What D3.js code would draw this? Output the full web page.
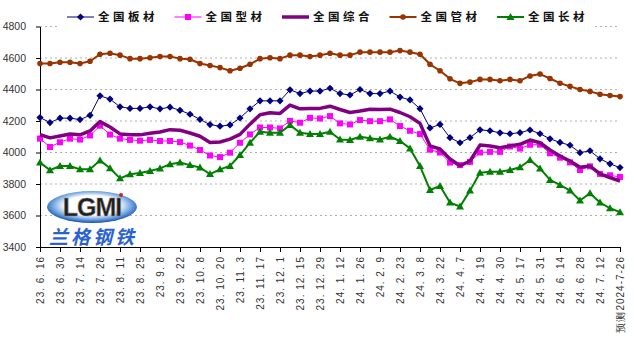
<!DOCTYPE html>
<html>
<head>
<meta charset="utf-8">
<script src="https://cdn.jsdelivr.net/npm/d3@7"></script>
<style>
  body { margin: 0; background: #fff; }
  svg { display: block; }
</style>
</head>
<body>
<svg id="chart" width="634" height="351"></svg>
<script>
// Tick labels (every second week)
const tickLabels = ["23. 6. 16", "23. 6. 30", "23. 7. 14", "23. 7. 28", "23. 8. 11", "23. 8. 25",
    "23. 9. 8", "23. 9. 22", "23. 10. 8", "23. 10. 20", "23. 11. 3", "23. 11. 17", "23. 12. 1",
    "23. 12. 15", "23. 12. 29", "24. 1. 12", "24. 1. 26", "24. 2. 9", "24. 2. 23", "24. 3. 8",
    "24. 3. 22", "24. 4. 7", "24. 4. 19", "24. 4. 30", "24. 5. 17", "24. 5. 31", "24. 6. 14",
    "24. 6. 28", "24. 7. 12", "预测2024-7-26"];

// Weekly price index values
const banCai = [4222, 4190, 4218, 4218, 4209, 4236, 4360, 4339, 4290, 4280, 4280, 4290, 4277, 4288, 4268,
    4243, 4210, 4177, 4167, 4175, 4219, 4277, 4328, 4328, 4328, 4398, 4374, 4390, 4390, 4408,
    4374, 4365, 4400, 4374, 4374, 4390, 4352, 4334, 4278, 4156, 4178, 4094, 4062, 4094, 4144,
    4138, 4125, 4119, 4126, 4143, 4119, 4087, 4064, 4046, 3999, 4011, 3960, 3928, 3904];
const xingCai = [4088, 4035, 4065, 4088, 4082, 4108, 4170, 4114, 4088, 4080, 4075, 4080, 4073, 4073, 4066,
    4044, 4016, 3981, 3971, 3999, 4062, 4115, 4159, 4159, 4153, 4201, 4189, 4220, 4216, 4231,
    4185, 4178, 4206, 4199, 4199, 4210, 4168, 4138, 4117, 4018, 4000, 3936, 3920, 3940, 4000,
    4004, 4004, 4038, 4025, 4049, 4050, 3995, 3967, 3937, 3889, 3912, 3864, 3855, 3845];
const zongHe = [4114, 4093, 4105, 4118, 4112, 4137, 4196, 4162, 4118, 4112, 4112, 4122, 4130, 4145, 4141,
    4124, 4103, 4063, 4067, 4085, 4115, 4180, 4240, 4252, 4248, 4301, 4277, 4280, 4280, 4294,
    4273, 4254, 4263, 4275, 4273, 4275, 4254, 4227, 4185, 4042, 4022, 3959, 3916, 3946, 4047,
    4041, 4030, 4041, 4052, 4079, 4062, 4016, 3978, 3946, 3906, 3914, 3864, 3840, 3819];
const guanCai = [4565, 4565, 4573, 4573, 4565, 4579, 4624, 4630, 4618, 4596, 4596, 4602, 4609, 4609, 4596,
    4592, 4565, 4552, 4539, 4519, 4535, 4560, 4596, 4602, 4596, 4618, 4618, 4609, 4618, 4630,
    4618, 4618, 4637, 4637, 4637, 4637, 4647, 4637, 4624, 4560, 4519, 4468, 4439, 4447, 4464,
    4464, 4456, 4464, 4456, 4486, 4498, 4470, 4440, 4420, 4400, 4388, 4370, 4362, 4355];
const changCai = [3937, 3888, 3914, 3914, 3893, 3893, 3950, 3900, 3836, 3862, 3870, 3882, 3899, 3926, 3937,
    3920, 3905, 3863, 3893, 3915, 3984, 4062, 4132, 4125, 4125, 4174, 4125, 4117, 4117, 4132,
    4083, 4079, 4100, 4090, 4083, 4100, 4073, 4026, 3914, 3762, 3788, 3682, 3657, 3758, 3872,
    3878, 3878, 3889, 3906, 3952, 3899, 3826, 3794, 3758, 3695, 3741, 3682, 3646, 3621];

const yTicks = [3400, 3600, 3800, 4000, 4200, 4400, 4600, 4800];

const seriesNames = ["全国板材", "全国型材", "全国综合", "全国管材", "全国长材"];

// Marker shapes
const diamond = "M0,-3.6L3.6,0L0,3.6L-3.6,0Z";
const square = "M-3,-3H3V3H-3Z";
const triangle = "M0,-4L4,3L-4,3Z";

const series = [
    { name: seriesNames[0], values: banCai, color: "#000080", width: 1, marker: diamond },
    { name: seriesNames[1], values: xingCai, color: "#ff00ff", width: 1, marker: square },
    { name: seriesNames[2], values: zongHe, color: "#800080", width: 3.5, marker: null },
    { name: seriesNames[3], values: guanCai, color: "#993300", width: 2, marker: "circle" },
    { name: seriesNames[4], values: changCai, color: "#008000", width: 2, marker: triangle }
];

const svg = d3.select("#chart");
const n = banCai.length;

// Scales
const x = d3.scalePoint()
    .domain(d3.range(n))
    .range([40, 620]);

const y = d3.scaleLinear()
    .domain([3400, 4800])
    .range([247, 26.5]);

// Grid lines
svg.append("g")
    .selectAll("line")
    .data(yTicks.slice(1))
    .enter().append("line")
    .attr("x1", 40).attr("x2", 620)
    .attr("y1", d => y(d)).attr("y2", d => y(d))
    .attr("stroke", "#b0b0b0")
    .attr("stroke-dasharray", "2,3");

// Logo
const defs = svg.append("defs");
const grad = defs.append("radialGradient").attr("id", "logoGrad")
    .attr("cx", "50%").attr("cy", "45%").attr("r", "55%");
grad.append("stop").attr("offset", "55%").attr("stop-color", "#ffffff");
grad.append("stop").attr("offset", "80%").attr("stop-color", "#6fa3e0");
grad.append("stop").attr("offset", "100%").attr("stop-color", "#1550b0");

const logo = svg.append("g");
logo.append("ellipse")
    .attr("cx", 92).attr("cy", 207).attr("rx", 45).attr("ry", 16)
    .attr("fill", "url(#logoGrad)");
logo.append("text")
    .attr("x", 92).attr("y", 216)
    .attr("text-anchor", "middle")
    .style("font-family", "'Liberation Sans', Arial, sans-serif")
    .style("font-weight", "bold")
    .style("font-size", "25px")
    .style("letter-spacing", "-1px")
    .attr("fill", "#1e1e1e")
    .attr("stroke", "#888")
    .attr("stroke-width", 0.6)
    .text("LGMI");
logo.append("circle")
    .attr("cx", 121).attr("cy", 195).attr("r", 2)
    .attr("fill", "#d02020");
logo.append("text")
    .attr("x", 93).attr("y", 244)
    .attr("text-anchor", "middle")
    .style("font-family", "'Noto Sans CJK SC', sans-serif")
    .style("font-weight", "bold")
    .style("font-style", "italic")
    .style("font-size", "19px")
    .style("letter-spacing", "3px")
    .attr("fill", "#2a62d0")
    .text("兰格钢铁");

// Axes
const xAxis = svg.append("g")
    .attr("transform", "translate(0,247)")
    .call(d3.axisBottom(x)
        .tickValues(d3.range(0, n, 2))
        .tickSize(5)
        .tickSizeOuter(0)
        .tickFormat(""));
xAxis.select(".domain").attr("stroke", "#000");

const yAxis = svg.append("g")
    .attr("transform", "translate(40,0)")
    .call(d3.axisLeft(y)
        .tickValues(yTicks)
        .tickSize(4)
        .tickSizeOuter(0)
        .tickPadding(10)
        .tickFormat(d3.format("d")));
yAxis.select(".domain").attr("stroke", "#000");
yAxis.selectAll("text")
    .style("font-family", "'Liberation Sans', Arial, sans-serif")
    .style("font-size", "10.5px")
    .attr("fill", "#333");

// X tick labels, rotated
svg.append("g")
    .selectAll("text")
    .data(tickLabels)
    .enter().append("text")
    .attr("transform", (d, i) => "translate(" + x(i * 2) + ",256) rotate(-90)")
    .attr("text-anchor", "end")
    .attr("dy", "0.35em")
    .style("font-family", "'Liberation Sans', Arial, sans-serif")
    .style("font-size", "10px")
    .style("letter-spacing", "1px")
    .attr("fill", "#333")
    .text(d => d);

// Lines and markers
const line = d3.line()
    .x((d, i) => x(i))
    .y(d => y(d));

series.forEach(function(s) {
    svg.append("path")
        .datum(s.values)
        .attr("fill", "none")
        .attr("stroke", s.color)
        .attr("stroke-width", s.width)
        .attr("stroke-linejoin", "round")
        .attr("d", line);

    if (s.marker === "circle") {
        svg.append("g").selectAll("circle")
            .data(s.values)
            .enter().append("circle")
            .attr("cx", (d, i) => x(i))
            .attr("cy", d => y(d))
            .attr("r", 2.8)
            .attr("fill", s.color);
    } else if (s.marker) {
        svg.append("g").selectAll("path")
            .data(s.values)
            .enter().append("path")
            .attr("transform", (d, i) => "translate(" + x(i) + "," + y(d) + ")")
            .attr("d", s.marker)
            .attr("fill", s.color);
    }
});

// Legend
svg.append("rect")
    .attr("x", 58).attr("y", 7)
    .attr("width", 536).attr("height", 21)
    .attr("fill", "#fff");

const legend = svg.append("g")
    .selectAll("g")
    .data(series)
    .enter().append("g")
    .attr("transform", (d, i) => "translate(" + (67 + i * 107.5) + ",17)");

legend.append("line")
    .attr("x1", 0).attr("x2", 27)
    .attr("stroke", d => d.color)
    .attr("stroke-width", d => d.width);

legend.filter(d => d.marker === "circle")
    .append("circle")
    .attr("cx", 13.5).attr("r", 2.8)
    .attr("fill", d => d.color);

legend.filter(d => d.marker && d.marker !== "circle")
    .append("path")
    .attr("transform", "translate(13.5,0)")
    .attr("d", d => d.marker)
    .attr("fill", d => d.color);

legend.append("text")
    .attr("x", 31)
    .attr("dy", "0.36em")
    .style("font-family", "'Noto Sans CJK SC', sans-serif")
    .style("font-weight", "bold")
    .style("font-size", "11.5px")
    .style("letter-spacing", "3.5px")
    .attr("fill", "#111")
    .text(d => d.name);
</script>
</body>
</html>
